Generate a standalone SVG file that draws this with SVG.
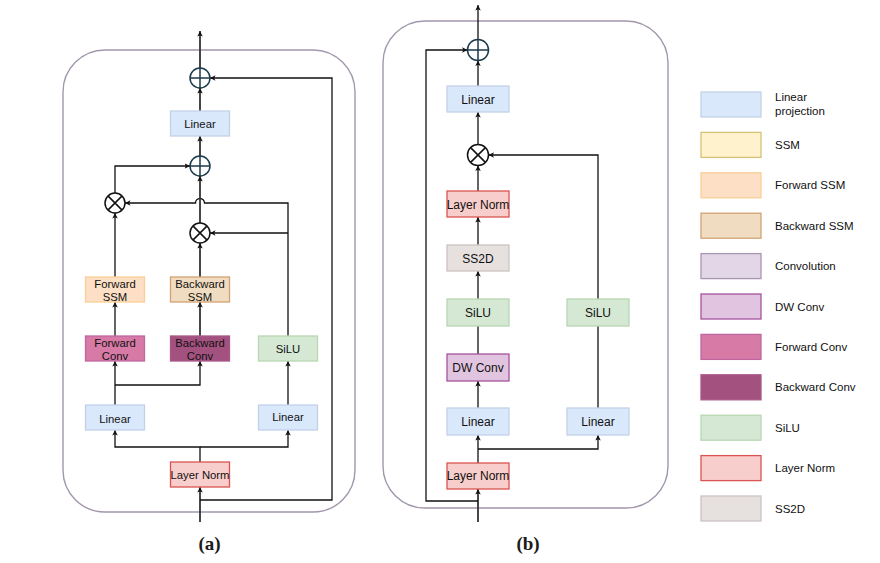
<svg xmlns="http://www.w3.org/2000/svg" width="880" height="563" viewBox="0 0 880 563">
<defs>
<marker id="ah" viewBox="0 0 8 8" refX="8" refY="4" markerWidth="5.5" markerHeight="5.5" markerUnits="userSpaceOnUse" orient="auto">
<path d="M0,0 L8,4 L0,8 L2,4 z" fill="#111"/>
</marker>
<style>
text{font-family:"Liberation Sans",Arial,sans-serif;fill:#111;}
.ta{font-size:11.3px;text-anchor:middle;}
.tb{font-size:12px;text-anchor:middle;}
.lg{font-size:11.5px;}
.cap{font-family:"Liberation Serif","Times New Roman",serif;font-weight:bold;font-size:19px;text-anchor:middle;fill:#1a1a1a;}
.panel{fill:none;stroke:#a297ab;stroke-width:1.4;}
.ln{fill:none;stroke:#111;stroke-width:1.3;}
.sp{fill:none;stroke:#333;stroke-width:1.8;}
.arr{marker-end:url(#ah);}
.lin{fill:#dae8fc;stroke:#c3d1e8;stroke-width:1.3;}
.ssm{fill:#fff2cc;stroke:#d5c279;stroke-width:1.3;}
.fssm{fill:#fcdfc4;stroke:#fbcf96;stroke-width:1.3;}
.bssm{fill:#f0dcc0;stroke:#d2a275;stroke-width:1.3;}
.conv{fill:#e2d6e7;stroke:#a996b3;stroke-width:1.3;}
.dw{fill:#e1c4df;stroke:#a5539e;stroke-width:1.3;}
.fconv{fill:#d77aa6;stroke:#c067a1;stroke-width:1.3;}
.bconv{fill:#a3527f;stroke:#a85888;stroke-width:1.3;}
.silu{fill:#d5e8d4;stroke:#b9d7b3;stroke-width:1.3;}
.lnorm{fill:#f8cecc;stroke:#d95450;stroke-width:1.3;}
.ss2d{fill:#e6e0df;stroke:#cdc3c3;stroke-width:1.3;}
.plus{fill:none;stroke:#1d3a4a;stroke-width:1.5;}
.mul{fill:none;stroke:#111;stroke-width:1.5;}
</style>
</defs>

<!-- panels -->
<rect class="panel" x="63" y="50" width="292" height="462" rx="42"/>
<rect class="panel" x="383" y="21" width="285" height="487" rx="42"/>

<!-- connectors -->
<g id="connectors">
<!-- panel a -->
<path class="sp arr" d="M200,522 V487"/>
<path class="ln arr" d="M200,462 V447 H115 V430"/>
<path class="ln arr" d="M200,447 H288 V430"/>
<path class="ln arr" d="M115,405 V361"/>
<path class="ln arr" d="M115,385 H200 V361"/>
<path class="ln arr" d="M288,405 V361"/>
<path class="ln arr" d="M115,336 V302"/>
<path class="sp arr" d="M200,336 V302"/>
<path class="ln arr" d="M115,277 V213"/>
<path class="sp arr" d="M200,277 V243"/>
<path class="ln arr" d="M288,336 V203 H204.5 A4.5,4.5 0 0 0 195.5,203 H125"/>
<path class="ln arr" d="M288,233 H210"/>
<path class="ln arr" d="M115,193 V166 H190"/>
<path class="sp arr" d="M200,223 V176"/>
<path class="sp arr" d="M200,156 V136"/>
<path class="sp arr" d="M200,111 V88"/>
<path class="sp arr" d="M200,68 V31"/>
<path class="ln arr" d="M200,500 H332 V78 H210"/>
<!-- panel b -->
<path class="sp arr" d="M478,522 V489"/>
<path class="ln arr" d="M478,501 H426 V50 H467.5"/>
<path class="ln arr" d="M478,463 V435"/>
<path class="ln arr" d="M478,449 H598 V435"/>
<path class="ln arr" d="M478,408 V381"/>
<path class="ln" d="M478,354 V326"/>
<path class="ln arr" d="M478,299 V271"/>
<path class="ln arr" d="M478,245 V217"/>
<path class="ln arr" d="M478,191 V165.5"/>
<path class="ln arr" d="M478,144.5 V112"/>
<path class="ln arr" d="M478,86 V60.5"/>
<path class="ln arr" d="M478,39.5 V5"/>
<path class="ln" d="M598,408 V326"/>
<path class="ln arr" d="M598,299 V155 H488.5"/>
</g>

<!-- panel a nodes -->
<g id="a-plus1"><circle class="plus" cx="200" cy="78" r="10"/><path class="plus" d="M190,78 H210 M200,68 V88"/></g>
<g id="a-linear-top"><rect class="lin" x="170.5" y="111" width="59" height="25"/><text class="ta" x="200" y="127.5">Linear</text></g>
<g id="a-plus2"><circle class="plus" cx="200" cy="166" r="10"/><path class="plus" d="M190,166 H210 M200,156 V176"/></g>
<g id="a-mul-left"><circle class="mul" cx="115" cy="203" r="10"/><path class="mul" d="M107.9,195.9 L122.1,210.1 M122.1,195.9 L107.9,210.1"/></g>
<g id="a-mul-right"><circle class="mul" cx="200" cy="233" r="10"/><path class="mul" d="M192.9,225.9 L207.1,240.1 M207.1,225.9 L192.9,240.1"/></g>
<g id="a-forward-ssm"><rect class="fssm" x="85.5" y="277" width="59" height="25"/><text class="ta" x="115" y="287.5">Forward</text><text class="ta" x="115" y="300.5">SSM</text></g>
<g id="a-backward-ssm"><rect class="bssm" x="170.5" y="277" width="59" height="25"/><text class="ta" x="200" y="287.5">Backward</text><text class="ta" x="200" y="300.5">SSM</text></g>
<g id="a-forward-conv"><rect class="fconv" x="85.5" y="336" width="59" height="25"/><text class="ta" x="115" y="346.5">Forward</text><text class="ta" x="115" y="359.5">Conv</text></g>
<g id="a-backward-conv"><rect class="bconv" x="170.5" y="336" width="59" height="25"/><text class="ta" x="200" y="346.5">Backward</text><text class="ta" x="200" y="359.5">Conv</text></g>
<g id="a-silu"><rect class="silu" x="258.5" y="336" width="59" height="25"/><text class="ta" x="288" y="352.5">SiLU</text></g>
<g id="a-linear-left"><rect class="lin" x="85.5" y="405" width="59" height="25"/><text class="ta" x="115" y="423">Linear</text></g>
<g id="a-linear-right"><rect class="lin" x="258.5" y="405" width="59" height="25"/><text class="ta" x="288" y="421">Linear</text></g>
<g id="a-layernorm"><rect class="lnorm" x="170.5" y="462" width="59" height="25"/><text class="ta" x="200" y="479">Layer Norm</text></g>
<text class="cap" x="209.5" y="550">(a)</text>

<!-- panel b nodes -->
<g id="b-plus"><circle class="plus" cx="478" cy="50" r="10.5"/><path class="plus" d="M467.5,50 H488.5 M478,39.5 V60.5"/></g>
<g id="b-linear-top"><rect class="lin" x="447" y="86" width="62" height="26"/><text class="tb" x="478" y="103.5">Linear</text></g>
<g id="b-mul"><circle class="mul" cx="478" cy="155" r="10.5"/><path class="mul" d="M470.6,147.6 L485.4,162.4 M485.4,147.6 L470.6,162.4"/></g>
<g id="b-layernorm-top"><rect class="lnorm" x="447" y="191" width="62" height="26"/><text class="tb" x="478" y="208.5">Layer Norm</text></g>
<g id="b-ss2d"><rect class="ss2d" x="447" y="245" width="62" height="26"/><text class="tb" x="478" y="262.5">SS2D</text></g>
<g id="b-silu-left"><rect class="silu" x="447" y="299" width="62" height="27"/><text class="tb" x="478" y="316.5">SiLU</text></g>
<g id="b-dwconv"><rect class="dw" x="447" y="354" width="62" height="27"/><text class="tb" x="478" y="371.5">DW Conv</text></g>
<g id="b-linear-left"><rect class="lin" x="447" y="408" width="62" height="27"/><text class="tb" x="478" y="425.5">Linear</text></g>
<g id="b-layernorm-bottom"><rect class="lnorm" x="447" y="463" width="62" height="26"/><text class="tb" x="478" y="480">Layer Norm</text></g>
<g id="b-silu-right"><rect class="silu" x="567" y="299" width="62" height="27"/><text class="tb" x="598" y="316.5">SiLU</text></g>
<g id="b-linear-right"><rect class="lin" x="567" y="408" width="62" height="27"/><text class="tb" x="598" y="425.5">Linear</text></g>
<text class="cap" x="528" y="550">(b)</text>

<!-- legend -->
<g id="legend-linear"><rect class="lin" x="701" y="92" width="60" height="25"/><text class="lg" x="775" y="101">Linear</text><text class="lg" x="775" y="114.5">projection</text></g>
<g id="legend-ssm"><rect class="ssm" x="701" y="132.4" width="60" height="25"/><text class="lg" x="775" y="149">SSM</text></g>
<g id="legend-fssm"><rect class="fssm" x="701" y="172.8" width="60" height="25"/><text class="lg" x="775" y="189.4">Forward SSM</text></g>
<g id="legend-bssm"><rect class="bssm" x="701" y="213.2" width="60" height="25"/><text class="lg" x="775" y="229.8">Backward SSM</text></g>
<g id="legend-conv"><rect class="conv" x="701" y="253.6" width="60" height="25"/><text class="lg" x="775" y="270.2">Convolution</text></g>
<g id="legend-dw"><rect class="dw" x="701" y="294" width="60" height="25"/><text class="lg" x="775" y="310.6">DW Conv</text></g>
<g id="legend-fconv"><rect class="fconv" x="701" y="334.4" width="60" height="25"/><text class="lg" x="775" y="351">Forward Conv</text></g>
<g id="legend-bconv"><rect class="bconv" x="701" y="374.8" width="60" height="25"/><text class="lg" x="775" y="391.4">Backward Conv</text></g>
<g id="legend-silu"><rect class="silu" x="701" y="415.2" width="60" height="25"/><text class="lg" x="775" y="431.8">SiLU</text></g>
<g id="legend-lnorm"><rect class="lnorm" x="701" y="455.6" width="60" height="25"/><text class="lg" x="775" y="472.2">Layer Norm</text></g>
<g id="legend-ss2d"><rect class="ss2d" x="701" y="496" width="60" height="25"/><text class="lg" x="775" y="512.6">SS2D</text></g>
</svg>
